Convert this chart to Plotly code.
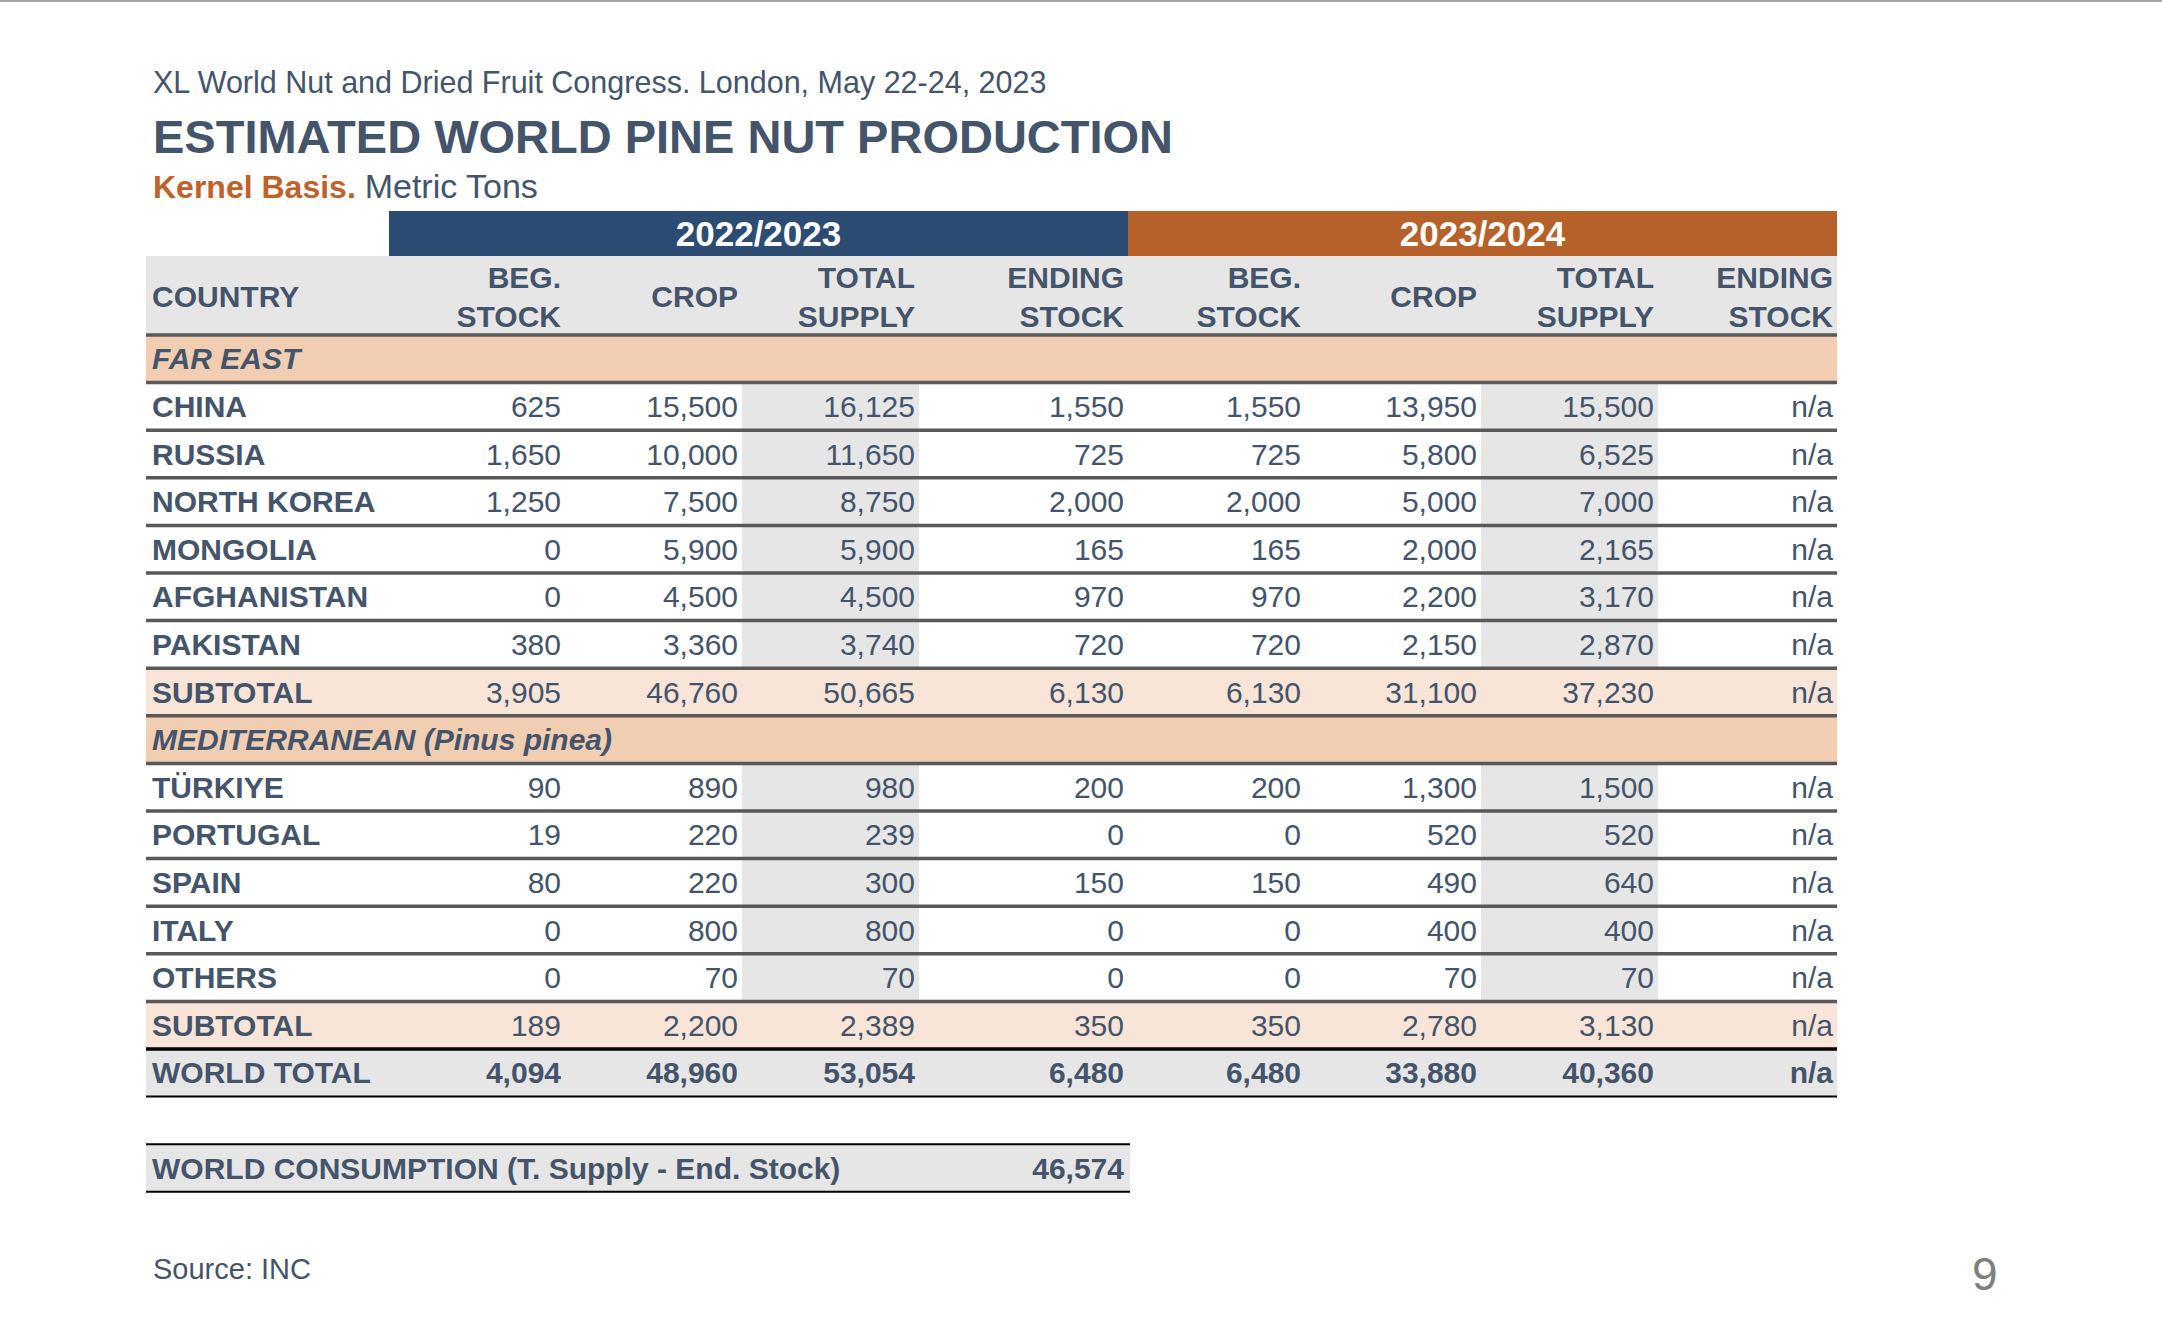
import plotly.graph_objects as go

# ---------------- data (Kernel basis, metric tons) ----------------
SEASONS = ['2022/2023', '2023/2024']
COLUMNS = ['BEG.<br>STOCK', 'CROP', 'TOTAL<br>SUPPLY', 'ENDING<br>STOCK']

FAR_EAST = ['CHINA', 'RUSSIA', 'NORTH KOREA', 'MONGOLIA', 'AFGHANISTAN', 'PAKISTAN']
fe_beg_22 = [625, 1650, 1250, 0, 0, 380]
fe_crop_22 = [15500, 10000, 7500, 5900, 4500, 3360]
fe_supply_22 = [16125, 11650, 8750, 5900, 4500, 3740]
fe_end_22 = [1550, 725, 2000, 165, 970, 720]
fe_beg_23 = [1550, 725, 2000, 165, 970, 720]
fe_crop_23 = [13950, 5800, 5000, 2000, 2200, 2150]
fe_supply_23 = [15500, 6525, 7000, 2165, 3170, 2870]
fe_end_23 = ['n/a', 'n/a', 'n/a', 'n/a', 'n/a', 'n/a']
fe_subtotal = [3905, 46760, 50665, 6130, 6130, 31100, 37230, 'n/a']

MEDITERRANEAN = ['TÜRKIYE', 'PORTUGAL', 'SPAIN', 'ITALY', 'OTHERS']
med_beg_22 = [90, 19, 80, 0, 0]
med_crop_22 = [890, 220, 220, 800, 70]
med_supply_22 = [980, 239, 300, 800, 70]
med_end_22 = [200, 0, 150, 0, 0]
med_beg_23 = [200, 0, 150, 0, 0]
med_crop_23 = [1300, 520, 490, 400, 70]
med_supply_23 = [1500, 520, 640, 400, 70]
med_end_23 = ['n/a', 'n/a', 'n/a', 'n/a', 'n/a']
med_subtotal = [189, 2200, 2389, 350, 350, 2780, 3130, 'n/a']

world_total = [4094, 48960, 53054, 6480, 6480, 33880, 40360, 'n/a']
world_consumption = 46574

# ---------------- look ----------------
W, H = 2162, 1324
FONT = 'Liberation Sans, Arial, sans-serif'
INK = '#44546A'
BLUE, ORANGE = '#2C4C74', '#B6602A'
GREY, PEACH, PEACH_LT = '#E6E6E6', '#F1CDB1', '#F9E4D8'
RULE = '#595959'
FS = 30

EDGES = [146, 389, 565, 742, 919, 1128, 1305, 1481, 1658, 1837]   # column edges (px)
BAR_TOP, HEAD_TOP, BODY_TOP, ROW_H = 211, 256, 335, 47.6
PAD_L, PAD_R, DY = 6, 4, 3   # text padding, small downward nudge for text baselines


def fmt(v):
    return v if isinstance(v, str) else f'{v:,}'


rows = [('section', '<i>FAR EAST</i>', None)]
for i, c in enumerate(FAR_EAST):
    rows.append(('data', c, [fe_beg_22[i], fe_crop_22[i], fe_supply_22[i], fe_end_22[i],
                             fe_beg_23[i], fe_crop_23[i], fe_supply_23[i], fe_end_23[i]]))
rows.append(('subtotal', 'SUBTOTAL', fe_subtotal))
rows.append(('section', '<i>MEDITERRANEAN (Pinus pinea)</i>', None))
for i, c in enumerate(MEDITERRANEAN):
    rows.append(('data', c, [med_beg_22[i], med_crop_22[i], med_supply_22[i], med_end_22[i],
                             med_beg_23[i], med_crop_23[i], med_supply_23[i], med_end_23[i]]))
rows.append(('subtotal', 'SUBTOTAL', med_subtotal))
rows.append(('total', 'WORLD TOTAL', world_total))

fig = go.Figure()
shapes = []


def rect(x0, x1, y0, y1, color):
    shapes.append(dict(type='rect', xref='x', yref='y', x0=x0, x1=x1, y0=y0, y1=y1,
                       fillcolor=color, line_width=0, layer='below'))


def hline(y, x0, x1, color, w):
    shapes.append(dict(type='line', xref='x', yref='y', x0=x0, x1=x1, y0=y, y1=y,
                       line=dict(color=color, width=w)))


# season bars + column header band
for k, season in enumerate(SEASONS):
    rect(EDGES[1 + 4 * k], EDGES[5 + 4 * k], BAR_TOP, HEAD_TOP, [BLUE, ORANGE][k])
rect(EDGES[0], EDGES[-1], HEAD_TOP, BODY_TOP, GREY)
fig.add_trace(go.Scatter(
    x=[(EDGES[1] + EDGES[5]) / 2, (EDGES[5] + EDGES[9]) / 2],
    y=[(BAR_TOP + HEAD_TOP) / 2 + DY + 1] * 2,
    mode='text', text=SEASONS, textposition='middle center',
    textfont=dict(family=FONT, size=35, color='white', weight='bold')))
fig.add_trace(go.Scatter(
    x=[EDGES[0] + PAD_L] + [EDGES[j + 2] - PAD_R for j in range(8)],
    y=[(HEAD_TOP + BODY_TOP) / 2 + DY + 1] * 9, mode='text',
    text=['COUNTRY'] + COLUMNS * 2,
    textposition=['middle right'] + ['middle left'] * 8,
    textfont=dict(family=FONT, size=FS, color=INK, weight='bold')))

# body rows
lab_x, lab_y, lab_t = [], [], []
num = {'regular': ([], [], []), 'bold': ([], [], [])}
last_sub = len(rows) - 2
for r, (kind, label, vals) in enumerate(rows):
    y0 = BODY_TOP + r * ROW_H
    y1 = y0 + ROW_H
    yc = (y0 + y1) / 2 + DY
    if kind == 'section':
        rect(EDGES[0], EDGES[-1], y0, y1, PEACH)
    elif kind == 'subtotal':
        rect(EDGES[0], EDGES[-1], y0, y1, PEACH_LT)
    elif kind == 'total':
        rect(EDGES[0], EDGES[-1], y0, y1, GREY)
    else:
        for c in (2, 6):
            rect(EDGES[c + 1], EDGES[c + 2], y0, y1, GREY)
    lab_x.append(EDGES[0] + PAD_L)
    lab_y.append(yc)
    lab_t.append(label)
    if vals:
        bucket = num['bold' if kind == 'total' else 'regular']
        for j, v in enumerate(vals):
            bucket[0].append(EDGES[j + 2] - PAD_R)
            bucket[1].append(yc)
            bucket[2].append(fmt(v))
    if r == last_sub:
        hline(y1, EDGES[0], EDGES[-1], 'black', 3.5)
    elif kind == 'total':
        hline(y1, EDGES[0], EDGES[-1], 'black', 2)
    else:
        hline(y1, EDGES[0], EDGES[-1], RULE, 3.5)
hline(BODY_TOP, EDGES[0], EDGES[-1], RULE, 3.5)

fig.add_trace(go.Scatter(x=lab_x, y=lab_y, mode='text', text=lab_t, textposition='middle right',
                         textfont=dict(family=FONT, size=FS, color=INK, weight='bold')))
for style, (xs, ys, ts) in num.items():
    fig.add_trace(go.Scatter(x=xs, y=ys, mode='text', text=ts, textposition='middle left',
                             textfont=dict(family=FONT, size=FS, color=INK,
                                           weight='bold' if style == 'bold' else 'normal')))

# world consumption box
cy0 = BODY_TOP + (len(rows) + 1) * ROW_H
cy1 = cy0 + ROW_H
rect(EDGES[0], EDGES[5] + 2, cy0, cy1, GREY)
hline(cy0, EDGES[0], EDGES[5] + 2, 'black', 2)
hline(cy1, EDGES[0], EDGES[5] + 2, 'black', 2)
fig.add_trace(go.Scatter(
    x=[EDGES[0] + PAD_L, EDGES[5] - PAD_R], y=[(cy0 + cy1) / 2 + DY] * 2, mode='text',
    text=['WORLD CONSUMPTION (T. Supply - End. Stock)', fmt(world_consumption)],
    textposition=['middle right', 'middle left'],
    textfont=dict(family=FONT, size=FS, color=INK, weight='bold')))

# slide furniture
shapes.append(dict(type='line', xref='paper', yref='paper', x0=0, x1=1, y0=1, y1=1,
                   line=dict(color='#A6A6A6', width=4)))
ann = [
    dict(x=151, y=82, text='XL World Nut and Dried Fruit Congress. London, May 22-24, 2023',
         font=dict(family=FONT, size=30.5, color=INK)),
    dict(x=151, y=136, text='<b>ESTIMATED WORLD PINE NUT PRODUCTION</b>',
         font=dict(family=FONT, size=47, color=INK)),
    dict(x=151, y=186, text="<span style='color:#C0612B'><b>Kernel Basis.</b></span> "
                            "<span style='font-size:34px'>Metric Tons</span>",
         font=dict(family=FONT, size=32, color=INK)),
    dict(x=151, y=1269, text='Source: INC', font=dict(family=FONT, size=29, color=INK)),
    dict(x=1970, y=1274, text='9', font=dict(family=FONT, size=46, color='#7F7F7F')),
]
for a in ann:
    a.update(xref='x', yref='y', xanchor='left', yanchor='middle', showarrow=False)

fig.update_layout(
    width=W, height=H, margin=dict(l=0, r=0, t=0, b=0),
    paper_bgcolor='white', plot_bgcolor='white', showlegend=False,
    xaxis=dict(range=[0, W], visible=False, fixedrange=True),
    yaxis=dict(range=[H, 0], visible=False, fixedrange=True),
    shapes=shapes, annotations=ann)
fig.write_html('out.html', config={'displayModeBar': False},
               post_script="document.body.style.margin='0';")
